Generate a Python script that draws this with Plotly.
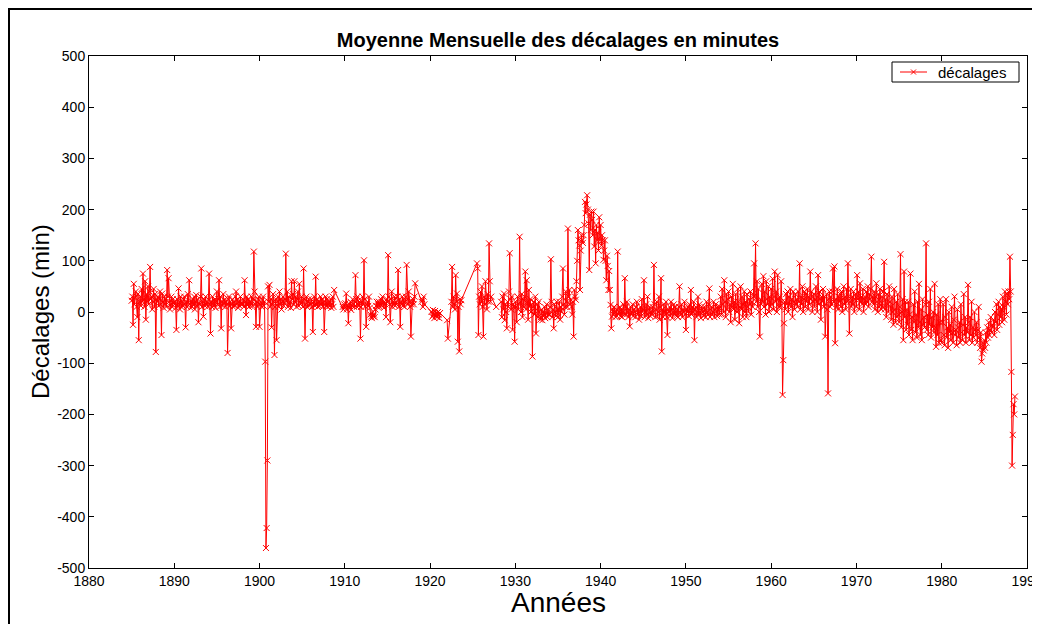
import plotly.graph_objects as go

N = None
# Monthly mean offsets (minutes); None = missing month
start_1885 = 1885
vals_1885_1899 = [
    22, 30, -25, 55, 15, 28, 40, 10, -10, 35, -55, 20,
    30, 12, 45, 20, 75, 25, 10, 60, -15, 35, 20, 50,
    15, 40, 88, 25, 30, 5, 20, 45, 10, 35, -78, 25,
    20, 30, 12, 25, 40, 15, -45, 36, 20, 8, 30, 15,
    25, 10, 82, 30, 66, 20, 5, 15, 30, 10, 25, 18,
    15, 20, 8, -35, 25, 12, 46, 18, 5, 30, 10, 20,
    12, 25, 30, 15, -30, 20, 10, 35, 18, 62, 15, 8,
    20, 10, 25, 15, 30, 5, 20, 33, 12, 25, -20, 18,
    15, 30, 85, 10, 20, -9, 25, 12, 30, 15, 20, 10,
    25, 75, 15, -42, 20, 10, 30, 18, 12, 25, 8, 20,
    40, 15, 25, 62, 10, 30, -32, 20, 12, 35, 18, 25,
    10, 20, 15, -80, 25, 30, 12, 20, -32, 15, 25, 10,
    20, 12, 30, 40, 15, 25, 8, 20, 12, 30, 15, 18,
    15, 25, 10, 62, 20, -6, 30, 15, 25, 10, 20, 12,
    18, 30, 12, 25, 118, 40, 15, -29, 20, 10, 25, 30,
]
start_1900 = 1900
vals_1900_1909 = [
    -29, 15, 20, 10, 25, 30, 12, 20, -97, -461, -422, -290,
    50, 20, 53, 10, 25, -30, 15, 35, 20, -84, 10, 25,
    -55, 20, 30, 10, 40, 15, 25, 5, 20, 30, 12, 18,
    25, 114, 20, 40, 10, 30, 15, 20, 8, 60, 25, 35,
    15, 60, 20, 30, 10, 25, 40, 12, 55, 20, 15, 30,
    20, 10, 85, 25, -52, 15, 30, 10, 20, 25, 12, 18,
    15, 25, 10, -39, 20, 30, 12, 69, 15, 25, 10, 20,
    12, 20, 30, 15, 25, 10, 20, -39, 15, 30, 12, 25,
    10, 15, 20, 12, 25, 8, 15, 30, 10, 43, N, N,
    N, N, N, N, N, N, N, N, N, 10, 5, 15,
]
start_1910 = 1910
vals_1910_1927 = [
    10, 17, 36, 5, 12, -22, 15, 8, 20, 4, 12, 25,
    15, 10, 20, 72, 25, 10, 30, 15, 12, 20, -52, 10,
    20, 30, 15, 101, 25, 10, -29, 15, 20, 12, 30, 8,
    -5, -9, -12, 0, -8, -5, -10, 5, 12, 20, 10, 15,
    20, 10, 15, 25, 12, 30, 18, 8, 20, 15, -10, 25,
    20, 111, 30, 15, -20, 25, 40, 10, 20, 15, 30, 12,
    20, 15, 30, 82, 10, 25, -29, 20, 15, 30, 12, 25,
    10, 20, 30, 92, 25, 15, 40, 20, 10, -48, 15, 20,
    25, 15, 30, 56, N, N, N, N, N, N, N, N,
    20, 25, 10, 30, 15, N, N, N, N, N, N, N,
    N, N, 0, -9, 4, -5, -12, 2, -8, -3, -10, 0,
    -5, -12, -2, N, N, N, N, N, N, N, N, N,
    -16, -52, N, N, N, N, 20, 88, 10, 30, 15, 5,
    72, 20, 36, -58, 10, -77, 25, 15, 23, N, N, N,
    N, N, N, N, N, N, N, N, N, N, N, N,
    N, N, N, N, N, N, 95, 85, -45, 30, 15, 40,
    20, 50, 10, -48, 30, 15, 60, 25, 5, 35, 20, 134,
    60, 20, 30, N, N, N, N, N, N, 10, N, N,
]
start_1928 = 1928
vals_1928_1941 = [
    N, N, N, N, 20, -10, 30, 5, 36, -16, 15, 0,
    -32, 20, 10, 40, 115, 25, 5, 30, -35, 15, 10, -58,
    20, 10, -20, 30, 5, 15, 147, 20, 0, 35, -10, 25,
    10, 30, 79, 5, 62, 20, -15, 43, 10, 25, 0, 15,
    -87, 10, 20, -5, 30, -42, 5, 15, -10, 20, 0, -15,
    -10, 5, -16, 0, -8, 10, -12, -3, 15, -10, 5, -5,
    -5, 10, 103, 20, -10, 5, -32, 15, 0, -8, 20, 5,
    -10, 5, 20, -15, 10, 0, 30, 85, 15, -5, 10, 40,
    20, 10, 163, 30, 43, 15, 24, 10, -5, 20, -48, 43,
    30, 24, 60, 100, 160, 140, 130, 43, 120, 150, 140, 135,
    150, 170, 215, 193, 210, 228, 200, 173, 82, 190, 160, 196,
    180, 150, 196, 128, 160, 95, 170, 140, 155, 120, 185, 140,
    170, 130, 150, 140, 102, 120, 140, 100, 62, 110, 90, 43,
    80, 43, 14, -32, -9, 5, -5, 10, 0, -10, 5, -8,
]
start_1942 = 1942
vals_1942_1957 = [
    118, -5, 0, 10, -8, 5, -10, 0, 15, -5, 66, 10,
    -5, 20, 0, -10, 5, -28, 10, -5, 0, 15, -8, 5,
    0, -10, 10, 20, -5, 5, -15, 0, 10, -8, 25, 0,
    5, 62, -10, 0, 15, -5, 30, -12, 5, 10, -8, 0,
    -5, 10, 0, 92, 15, -10, 5, 20, -8, 0, 30, -15,
    10, 66, -77, 5, -10, 15, 0, -5, 20, -10, -45, 5,
    0, 10, -8, 20, 5, -12, 0, 15, -5, 10, 0, -8,
    5, -10, 10, 50, 0, -5, 15, -10, 5, 0, 20, -5,
    -35, 5, 0, 10, -8, 15, 0, 43, -5, 10, 0, 20,
    -55, 5, 10, -10, 0, 30, -5, 15, 0, -12, 10, 5,
    0, -8, 10, 5, -10, 20, 0, -5, 15, 46, -10, 5,
    10, -5, 0, 20, -10, 5, 15, 0, -8, 10, 5, -5,
    10, 30, -5, 45, 15, 0, 62, 20, -10, 35, 5, 25,
    40, 0, 15, -20, 30, 10, 55, 5, 20, -15, 35, 10,
    0, 45, 20, -22, 10, 50, 5, 30, -10, 15, 40, 0,
    20, -10, 35, 10, 0, 25, 15, 40, -5, 20, 10, 30,
]
start_1958 = 1958
vals_1958_1971 = [
    95, 30, 134, 20, 60, 10, 45, 0, -48, 25, 15, 55,
    20, 70, 10, 40, -5, 60, 25, 15, 50, 0, 30, 10,
    45, 15, 65, 5, 30, 79, 20, 40, 0, 72, 25, 10,
    30, 10, 60, 20, -162, -94, -22, 20, 5, 35, 15, 40,
    0, 30, 15, 45, 10, 25, -10, 40, 20, 5, 35, 15,
    25, 10, 40, 20, 95, 5, 30, 15, 50, 0, 25, 40,
    10, 35, 20, 45, 5, 30, 15, 79, 25, 40, 0, 20,
    35, 10, 25, 50, 20, 0, 72, 15, 40, 25, -15, 30,
    20, 45, 10, 30, -48, 15, 35, 5, -159, 25, 40, 10,
    30, 15, 40, 85, 20, 89, -61, 25, 10, 45, 5, 30,
    20, 35, 10, 40, 0, 25, 50, 15, 30, 5, 45, 20,
    95, 30, -42, 20, 45, 10, 30, 15, 40, 0, 25, 35,
    10, 72, 25, 40, 5, 56, 20, 30, 15, 45, 0, 25,
    30, 15, 40, 20, 50, 10, 35, 25, 45, 108, 20, 30,
]
start_1972 = 1972
vals_1972_1988 = [
    15, 40, 5, 30, 56, 20, 0, 35, 10, 45, 20, 5,
    30, 10, 40, 98, 5, 25, -10, 35, 15, 0, 50, 20,
    10, -15, 30, 0, -25, 45, 5, -20, 20, -10, 35, -5,
    -20, 10, 113, -30, 0, 25, -55, 79, -10, 20, -35, 5,
    -25, 20, -45, -5, 75, -35, -10, -55, 15, -20, 40, -40,
    -5, -50, 20, -30, 55, -20, -45, 5, -55, 25, -25, -10,
    -30, 15, 134, -35, -5, -45, 20, -25, 45, -50, -10, -30,
    0, -40, 55, -30, -68, -5, -45, 15, -60, -20, 25, -55,
    -60, -20, 15, -45, -65, -10, 25, -50, -30, -70, 0, -40,
    -25, -55, 10, -40, -60, -15, 30, -45, -35, -65, 5, -30,
    -50, -20, -60, 15, -40, -55, -25, 35, -45, -10, -60, -30,
    -40, 53, -20, -55, -10, -45, 20, -60, -30, -50, 0, -35,
    -45, -20, -60, -35, 10, -50, -70, -40, -97, -81, -60, -75,
    -55, -70, -40, -60, -30, -50, -20, -45, -35, -10, -40, -25,
    -30, -15, -45, 0, -20, 15, -35, -5, 20, -25, 10, -10,
    5, -20, 30, 10, -15, 40, 20, -5, 35, 15, 40, 25,
    108, 40, -117, -300, -240, -180, -200, -165,
]

segments = [
    (start_1885, vals_1885_1899),
    (start_1900, vals_1900_1909),
    (start_1910, vals_1910_1927),
    (start_1928, vals_1928_1941),
    (start_1942, vals_1942_1957),
    (start_1958, vals_1958_1971),
    (start_1972, vals_1972_1988),
]
years, values = [], []
for y0, vals in segments:
    for i, v in enumerate(vals):
        years.append(y0 + i / 12.0)
        values.append(v)

x_ticks = list(range(1880, 1991, 10))
y_ticks = list(range(-500, 501, 100))
series_name = "décalages"

FONT = "Liberation Sans, Arial, sans-serif"
RED = "#ff0000"

# Figure sized so that the page (with its 8px body margin) fits the window
W, H = 1024, 616
L, R, T, B = 81, 1019, 48, 560
PW, PH = R - L, B - T


def px(xp):
    return (xp - L) / PW


def py(yp):
    return (B - yp) / PH


fig = go.Figure()
fig.add_trace(go.Scatter(
    x=years, y=values, mode="lines+markers", name=series_name,
    connectgaps=True, showlegend=False,
    line=dict(color=RED, width=1),
    marker=dict(symbol="x-thin", size=6, color=RED, line=dict(color=RED, width=1)),
))

axis_common = dict(
    showgrid=False, zeroline=False, showline=True, mirror="ticks",
    linecolor="#000000", linewidth=1, ticks="inside", ticklen=5,
    tickcolor="#000000", tickfont=dict(family=FONT, size=14, color="#000000"),
    ticklabeloverflow="allow", automargin=False,
)

# legend box (MATLAB style)
lx0, lx1, ly0, ly1 = 884, 1011, 54, 74
lmid = (ly0 + ly1) / 2
shapes = [
    dict(type="rect", xref="paper", yref="paper",
         x0=px(1), x1=px(1200), y0=py(800), y1=py(1),
         line=dict(color="#000000", width=2), fillcolor="rgba(0,0,0,0)",
         layer="above"),
    dict(type="rect", xref="paper", yref="paper",
         x0=px(lx0), x1=px(lx1), y0=py(ly1), y1=py(ly0),
         line=dict(color="#000000", width=1), fillcolor="white", layer="above"),
    dict(type="line", xref="paper", yref="paper",
         x0=px(892), x1=px(919), y0=py(lmid), y1=py(lmid),
         line=dict(color=RED, width=1), layer="above"),
    dict(type="line", xref="paper", yref="paper",
         x0=px(903), x1=px(908), y0=py(lmid - 2.5), y1=py(lmid + 2.5),
         line=dict(color=RED, width=1), layer="above"),
    dict(type="line", xref="paper", yref="paper",
         x0=px(903), x1=px(908), y0=py(lmid + 2.5), y1=py(lmid - 2.5),
         line=dict(color=RED, width=1), layer="above"),
]

fig.update_layout(
    width=W, height=H,
    margin=dict(l=L, r=W - R, t=T, b=H - B, autoexpand=False),
    paper_bgcolor="white", plot_bgcolor="white",
    font=dict(family=FONT, color="#000000"),
    title=dict(text="<b>Moyenne Mensuelle des décalages en minutes</b>",
               x=0.5, xref="paper", xanchor="center",
               y=1 - 32 / H, yref="container", yanchor="middle",
               font=dict(family=FONT, size=20, color="#000000")),
    xaxis=dict(range=[1880, 1990], tickvals=x_ticks,
               ticktext=[str(v) for v in x_ticks], **axis_common),
    yaxis=dict(range=[-500, 500], tickvals=y_ticks,
               ticktext=[str(v) for v in y_ticks], **axis_common),
    showlegend=False,
    annotations=[
        dict(text="Années", xref="paper", yref="paper", x=0.5, y=py(594),
             xanchor="center", yanchor="middle", showarrow=False,
             font=dict(family=FONT, size=28, color="#000000")),
        dict(text="Décalages (min)", xref="paper", yref="paper",
             x=px(32), y=0.5, xanchor="center", yanchor="middle",
             textangle=-90, showarrow=False,
             font=dict(family=FONT, size=24, color="#000000")),
        dict(text=series_name, xref="paper", yref="paper",
             x=px(928), y=py(lmid), xanchor="left", yanchor="middle",
             showarrow=False,
             font=dict(family=FONT, size=15, color="#000000")),
    ],
    shapes=shapes,
)

fig.write_html("out.html")
